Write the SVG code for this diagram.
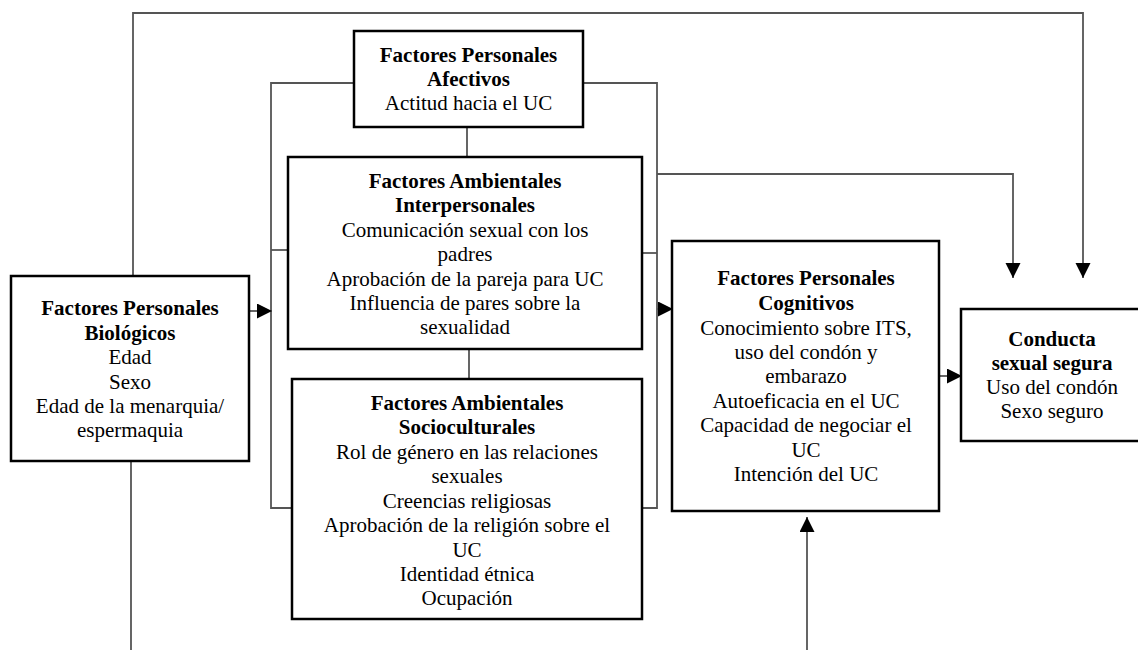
<svg xmlns="http://www.w3.org/2000/svg" width="1138" height="650" viewBox="0 0 1138 650">
<style>
.box{fill:#fff;stroke:#000;stroke-width:2.5}
.c{fill:none;stroke:#555;stroke-width:1.8}
text{font-family:"Liberation Serif","Times New Roman",serif;font-size:21px;fill:#000;text-anchor:middle}
.b{font-weight:bold}
</style>
<defs>
<marker id="ah" markerUnits="userSpaceOnUse" markerWidth="16" markerHeight="16" refX="15" refY="7.5" orient="auto">
<path d="M0,0 L15,7.5 L0,15 z" fill="#000"/>
</marker>
</defs>
<rect width="1138" height="650" fill="#fff"/>
<g id="connectors">
<polyline class="c" points="133,277 133,13 1083,13 1083,278" marker-end="url(#ah)"/>
<line class="c" x1="131" y1="461" x2="131" y2="650"/>
<polyline class="c" points="354,83 271,83 271,508 292,508"/>
<line class="c" x1="271" y1="250" x2="288" y2="250"/>
<polyline class="c" points="583,83 657,83 657,508 642,508"/>
<line class="c" x1="642" y1="253" x2="657" y2="253"/>
<polyline class="c" points="657,174 1013,174 1013,278" marker-end="url(#ah)"/>
<line class="c" x1="467" y1="127" x2="467" y2="157"/>
<line class="c" x1="469" y1="349" x2="469" y2="379"/>
<line class="c" x1="249" y1="311" x2="272" y2="311" marker-end="url(#ah)"/>
<line class="c" x1="657" y1="309" x2="673" y2="309" marker-end="url(#ah)"/>
<line class="c" x1="939" y1="376" x2="962" y2="376" marker-end="url(#ah)"/>
<line class="c" x1="807" y1="650" x2="807" y2="517" marker-end="url(#ah)"/>
</g>
<g id="biologicos">
<rect class="box" x="11" y="276" width="238" height="185"/>
<text class="b" x="130" y="315">Factores Personales</text>
<text class="b" x="130" y="340">Biológicos</text>
<text x="130" y="364">Edad</text>
<text x="130" y="389">Sexo</text>
<text x="130" y="413">Edad de la menarquia/</text>
<text x="130" y="437">espermaquia</text>
</g>
<g id="afectivos">
<rect class="box" x="354" y="31" width="229" height="96"/>
<text class="b" x="468.5" y="62">Factores Personales</text>
<text class="b" x="468.5" y="86">Afectivos</text>
<text x="468.5" y="110">Actitud hacia el UC</text>
</g>
<g id="interpersonales">
<rect class="box" x="288" y="157" width="354" height="192"/>
<text class="b" x="465" y="188">Factores Ambientales</text>
<text class="b" x="465" y="212">Interpersonales</text>
<text x="465" y="237">Comunicación sexual con los</text>
<text x="465" y="261">padres</text>
<text x="465" y="286">Aprobación de la pareja para UC</text>
<text x="465" y="310">Influencia de pares sobre la</text>
<text x="465" y="334">sexualidad</text>
</g>
<g id="socioculturales">
<rect class="box" x="292" y="379" width="350" height="240"/>
<text class="b" x="467" y="410">Factores Ambientales</text>
<text class="b" x="467" y="434">Socioculturales</text>
<text x="467" y="459">Rol de género en las relaciones</text>
<text x="467" y="483">sexuales</text>
<text x="467" y="508">Creencias religiosas</text>
<text x="467" y="532">Aprobación de la religión sobre el</text>
<text x="467" y="557">UC</text>
<text x="467" y="581">Identidad étnica</text>
<text x="467" y="605">Ocupación</text>
</g>
<g id="cognitivos">
<rect class="box" x="672" y="241" width="267" height="270"/>
<text class="b" x="806" y="285">Factores Personales</text>
<text class="b" x="806" y="310">Cognitivos</text>
<text x="806" y="335">Conocimiento sobre ITS,</text>
<text x="806" y="359">uso del condón y</text>
<text x="806" y="383">embarazo</text>
<text x="806" y="408">Autoeficacia en el UC</text>
<text x="806" y="432">Capacidad de negociar el</text>
<text x="806" y="457">UC</text>
<text x="806" y="481">Intención del UC</text>
</g>
<g id="conducta">
<rect class="box" x="961" y="309" width="182" height="132"/>
<text class="b" x="1052" y="346">Conducta</text>
<text class="b" x="1052" y="370">sexual segura</text>
<text x="1052" y="394">Uso del condón</text>
<text x="1052" y="418">Sexo seguro</text>
</g>
</svg>
